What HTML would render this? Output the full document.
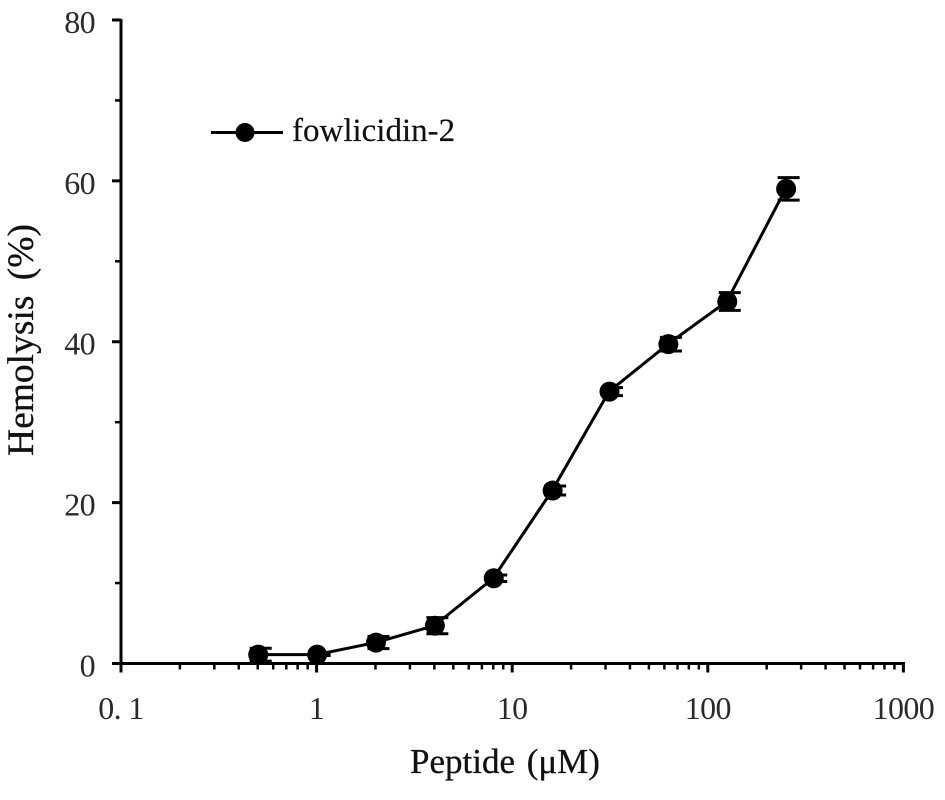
<!DOCTYPE html>
<html>
<head>
<meta charset="utf-8">
<style>
html,body{margin:0;padding:0;background:#fff;width:945px;height:800px;overflow:hidden}
svg{display:block}
text{font-family:"Liberation Serif","Noto Serif CJK SC",serif;fill:#111}
</style>
</head>
<body>
<svg id="chart" xmlns="http://www.w3.org/2000/svg" width="945" height="800" viewBox="0 0 945 800">
  <g id="grid-axes"></g>
  <g id="series"></g>
  <g>
    <line x1="211" y1="132.5" x2="283" y2="132.5" stroke="#000" stroke-width="3"></line>
    <circle cx="245" cy="132.5" r="9.5" fill="#000"></circle>
    <text x="292" y="141" font-size="33" stroke="#111" stroke-width="0.2">fowlicidin-2</text>
  </g>
  <text transform="translate(33,456) rotate(-90)" font-size="37.5" stroke="#111" stroke-width="0.3">Hemolysis<tspan dx="6"> (%)</tspan></text>
  <text x="410" y="773" font-size="35" stroke="#111" stroke-width="0.3">Peptide<tspan dx="3"> (μM)</tspan></text>
</svg>
<script>
const concentrations = [0.5, 1, 2, 4, 8, 16, 31.25, 62.5, 125, 250];
const hemolysis = [1.1, 1.1, 2.6, 4.7, 10.6, 21.5, 33.8, 39.7, 45, 59];
const errors = [0.8, 0.1, 0.75, 1.0, 0.4, 0.56, 0.5, 0.85, 1.1, 1.4];
const yTickValues = [0, 20, 40, 60, 80];
const yMinorValues = [10, 30, 50, 70];
const xTickValues = [0.1, 1, 10, 100, 1000];
const xTickLabels = ["0. 1", "1", "10", "100", "1000"];
const xMinorMultipliers = [2, 3, 4, 5, 6, 7, 8, 9];

const SVG_NS = "http://www.w3.org/2000/svg";
function xScale(v) { return 121 + (Math.log10(v) + 1) * 195.6; }
function yScale(v) { return 663.5 - v * 8.044; }

function makeLine(parent, x1, y1, x2, y2, width) {
  const el = document.createElementNS(SVG_NS, "line");
  el.setAttribute("x1", x1);
  el.setAttribute("y1", y1);
  el.setAttribute("x2", x2);
  el.setAttribute("y2", y2);
  el.setAttribute("stroke", "#000");
  el.setAttribute("stroke-width", width);
  parent.appendChild(el);
  return el;
}
function makeText(parent, x, y, anchor, content) {
  const el = document.createElementNS(SVG_NS, "text");
  el.setAttribute("x", x);
  el.setAttribute("y", y);
  el.setAttribute("text-anchor", anchor);
  el.setAttribute("font-size", "32");
  el.setAttribute("letter-spacing", "-0.6");
  el.setAttribute("style", "fill:#2a2a2a");
  el.textContent = content;
  parent.appendChild(el);
  return el;
}

const axes = document.getElementById("grid-axes");
const yAxisLine = makeLine(axes, 121, yScale(80) - 1, 121, yScale(0) + 1, 3);


const xAxisLine = makeLine(axes, 112, yScale(0), 905, yScale(0), 3);



yTickValues.forEach(function (v) {
  const tick = makeLine(axes, 112, yScale(v), 121, yScale(v), 3);
  
  
  const label = makeText(axes, 95, yScale(v) + 13, "end", String(v));
  
  
});
yMinorValues.forEach(function (v) {
  const tick = makeLine(axes, 115, yScale(v), 121, yScale(v), 2.5);
  
  
});
xTickValues.forEach(function (v, i) {
  const tick = makeLine(axes, xScale(v), yScale(0), xScale(v), yScale(0) + 9, 3);
  
  
  const label = makeText(axes, xScale(v), 719, "middle", xTickLabels[i]);
  
  
  if (i < xTickValues.length - 1) {
    xMinorMultipliers.forEach(function (m) {
      const minor = makeLine(axes, xScale(v * m), yScale(0), xScale(v * m), yScale(0) + 6, 2.5);
      
      
    });
  }
});

const series = document.getElementById("series");
const polyline = document.createElementNS(SVG_NS, "polyline");


polyline.setAttribute("fill", "none");
polyline.setAttribute("stroke", "#000");
polyline.setAttribute("stroke-width", "3");
polyline.setAttribute("points", concentrations.map(function (c, i) {
  return xScale(c) + "," + yScale(hemolysis[i]);
}).join(" "));
series.appendChild(polyline);

concentrations.forEach(function (c, i) {
  const cx = xScale(c);
  const top = yScale(hemolysis[i] + errors[i]);
  const bottom = yScale(hemolysis[i] - errors[i]);
  const capTop = makeLine(series, cx - 8, top, cx + 14, top, 3);
  
  
  const capBottom = makeLine(series, cx - 8, bottom, cx + 14, bottom, 3);
  
  
  const dot = document.createElementNS(SVG_NS, "circle");
  
  
  dot.setAttribute("cx", cx + 0.5);
  dot.setAttribute("cy", yScale(hemolysis[i]));
  dot.setAttribute("r", 10);
  dot.setAttribute("fill", "#000");
  series.appendChild(dot);
});
</script>
</body>
</html>
